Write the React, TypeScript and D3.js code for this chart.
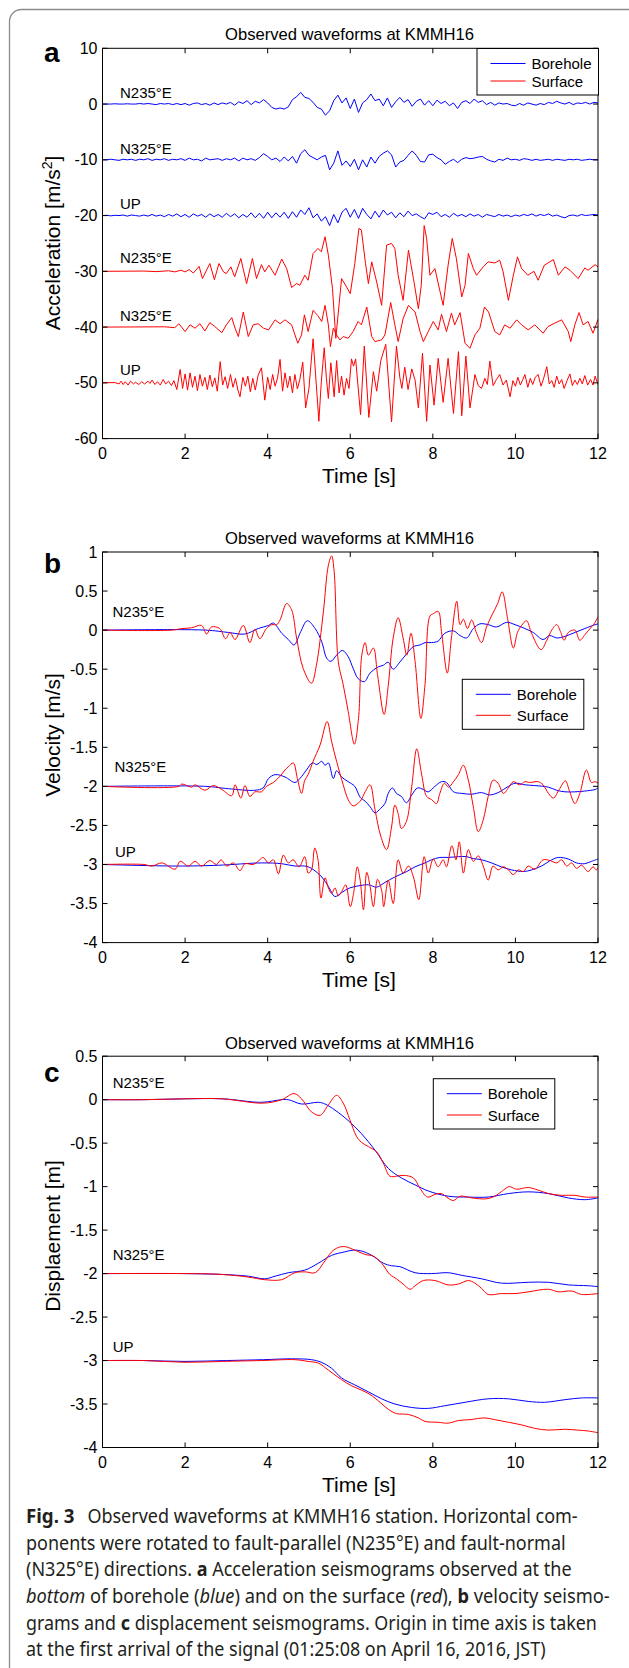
import React from 'react';
import * as d3 from 'd3';

type Pt = [number, number];

// ---- shared axis data ----
const timeTicks = [0, 2, 4, 6, 8, 10, 12];
const accTicks = [10, 0, -10, -20, -30, -40, -50, -60];
const velTicks = [1, 0.5, 0, -0.5, -1, -1.5, -2, -2.5, -3, -3.5, -4];
const dispTicks = [0.5, 0, -0.5, -1, -1.5, -2, -2.5, -3, -3.5, -4];
const components = ['N235°E', 'N325°E', 'UP'];
const legendNames = ['Borehole', 'Surface'];

// ---- (a) acceleration, borehole sampled every 0.1 s ----
const accDt = 0.1;
const accBoreN235 = [
  0, 0, 0, 0.05, 0, 0, 0.05, 0, 0, 0.1,
  0, 0.1, 0, -0.1, 0.1, 0, 0.1, -0.1, 0.1, -0.1,
  0.1, -0.2, 0.1, 0.2, -0.1, 0.1, -0.2, 0.2, -0.1, 0.2,
  0, 0.3, -0.2, 0.4, 0.1, 0.6, -0.1, 0.5, 0.2, 0.8,
  0.2, -0.6, -0.9, -0.7, -0.9, -0.5, 0.8, 1.3, 2.1, 1.2,
  1.0, 0.3, -0.6, -0.9, -2.0, -1.2, 0.6, 1.6, 0.2, 1.1,
  -0.8, 0.9, -1.5, 0.2, 0.8, 1.8, 0.6, 0.9, -0.3, 1.1,
  -0.6, 0.4, 1.2, 0.3, 0.8, -0.4, 0.5, 0.9, -0.2, 0.6,
  -0.3, 0.7, 0.1, 0.5, -0.3, 0.2, -0.8, 0.3, 0.6, 0.1,
  0.9, 0.3, 0.6, -0.1, 0.3, -0.2, 0.2, 0, 0.1, -0.2,
  -0.3, 0.1, -0.2, 0.2, 0, -0.2, 0.1, -0.1, 0.3, 0.1,
  0.5, 0.2, 0, 0.3, -0.1, 0.2, 0.1, 0.3, 0, 0.3,
  0.2,
];
const accBoreN325 = [
  0, 0, 0.1, 0, -0.1, 0.1, 0, 0.1, -0.1, 0.1,
  0, 0.2, -0.1, 0.1, 0, 0.2, -0.1, 0.1, 0, 0.2,
  -0.1, 0.3, 0, 0.1, -0.2, 0.3, 0, 0.1, 0.2, -0.1,
  0.2, 0, 0.3, -0.2, 0.3, 0, 0.2, -0.1, 0.4, 1.1,
  0.6, 0, 0.3, -0.3, 0.5, -0.2, 0.6, -0.6, 1.1, 1.8,
  0.8, 0.4, 0, 0.5, 0.8, -1.8, -0.6, 1.6, -1.0, -0.2,
  -1.2, 0.1, -1.8, 0, -1.3, 0.5, -0.6, 0.6, 1.2, 1.6,
  0.9, -1.3, -0.4, -0.1, 0.8, 1.6, 0.8, -0.3, -0.4, 0.9,
  1.0, 0.4, 0, -0.8, -0.3, 0.1, -0.5, 0.1, 0.4, 0.2,
  0.3, 0.5, 0.6, 0.1, -0.2, -0.4, 0.1, -0.1, 0.3, 0,
  0.1, -0.1, 0.2, 0.1, -0.1, 0.1, -0.1, 0, 0.1, -0.1,
  0.1, 0, -0.1, 0.1, 0, 0.1, -0.1, 0, 0.1, 0,
  0,
];
const accBoreUP = [
  0, 0.05, -0.05, 0.05, 0, 0.1, -0.1, 0.1, 0, -0.1,
  0.1, -0.1, 0.2, -0.1, 0.1, -0.2, 0.2, -0.1, 0.3, -0.2,
  0.2, -0.3, 0.3, -0.1, 0.2, -0.3, 0.3, -0.2, 0.2, -0.3,
  0.4, -0.2, 0.3, -0.4, 0.2, -0.3, 0.5, -0.4, 0.4, -0.5,
  0.6, -0.4, 0.5, -0.3, 0.6, -0.5, 0.7, -0.3, 1.0, 0.2,
  1.4, -0.4, 0.3, -1.0, -0.2, -1.8, 0.2, -1.3, 0.6, 1.3,
  -0.3, 1.1, -0.5, 1.3, 0.2, -0.6, 0.8, -0.3, 1.0, 0.1,
  0.6, -0.4, 0.5, -0.2, 0.8, 0, 0.3, -0.2, -0.6, 0.5,
  0.2, 0.6, -0.2, 0.2, -0.3, 0.4, -0.1, 0.2, -0.2, 0.3,
  -0.1, 0.2, -0.3, 0.2, 0, -0.2, 0.2, -0.1, 0.1, -0.2,
  0.1, -0.1, 0.2, 0, 0.3, -0.1, 0.2, 0, 0.3, -0.1,
  0.1, -0.2, -0.4, 0, 0.1, -0.1, 0.2, 0, 0.1, 0.2,
  0.1,
];

// ---- (a) acceleration, surface: [time s, m/s^2] ----
const accSurfN235: Pt[] = [
  [0, 0], [1.0, 0.05], [1.3, -0.05], [1.6, 0.1], [1.75, -0.1], [1.9, 0.2], [2.0, -0.1], [2.1, 0.3],
  [2.2, -0.3], [2.34, 0.9], [2.42, -1.3], [2.6, 1.4], [2.71, -1.5], [2.82, 1.4], [2.93, -0.1], [3.0, -0.4],
  [3.11, 0.8], [3.2, -1.0], [3.35, 2.3], [3.49, -2.2], [3.63, 2.3], [3.73, -1.3], [3.85, 1.2], [3.93, -0.1],
  [4.03, 1.1], [4.18, -0.7], [4.34, 2.2], [4.46, 0.5], [4.58, -2.9], [4.7, -2.2], [4.78, -2.5], [4.9, -0.7],
  [4.98, -1.6], [5.1, 3.2], [5.22, 4.1], [5.3, 3.5], [5.39, 6.2], [5.47, 2.9], [5.57, -3.1], [5.65, -12],
  [5.79, -1.3], [5.91, -2.8], [6.0, -4], [6.11, 1.4], [6.21, 7.7], [6.27, 7.4], [6.37, 1.4], [6.44, -2.2],
  [6.52, 1.7], [6.64, -1.9], [6.76, -6.1], [6.88, 4.7], [7.0, 5.0], [7.08, 4.1], [7.16, -0.7], [7.28, -5.2],
  [7.41, 3.8], [7.53, -1.3], [7.65, -6.7], [7.72, -2.5], [7.79, 8.2], [7.85, 5.9], [7.93, -0.7], [8.05, 0.5],
  [8.25, -6.1], [8.37, 1.1], [8.47, 5.9], [8.57, 2.3], [8.7, -4.6], [8.78, -2.5], [8.86, 3.2], [8.98, 0.5],
  [9.06, -0.7], [9.22, 0.8], [9.34, 1.7], [9.5, 1.5], [9.62, 2.0], [9.7, 0], [9.83, -5.2], [9.95, -0.7],
  [10.05, 2.6], [10.15, 0.5], [10.3, -0.7], [10.45, 0], [10.55, -1.6], [10.7, 1.1], [10.92, 2.1], [11.04, -0.7],
  [11.2, 0.8], [11.32, 0.2], [11.52, -1.3], [11.68, 0.6], [11.76, 0.2], [11.93, 1.2], [12.0, 0.8],
];
const accSurfN325: Pt[] = [
  [0, 0], [1.5, 0.05], [1.75, -0.1], [1.85, 0.6], [2.0, -0.8], [2.12, 0.4], [2.24, -0.2], [2.36, 0.6],
  [2.48, -0.7], [2.6, 0.8], [2.72, 0.1], [2.89, -1.0], [3.0, 0.4], [3.13, 1.7], [3.21, -0.2], [3.29, -1.7],
  [3.41, 2.7], [3.53, -1.7], [3.65, 0.4], [3.77, 0.6], [3.9, -0.2], [4.02, -0.5], [4.18, 1.3], [4.3, 0.6],
  [4.42, 1.3], [4.58, 0.4], [4.73, -2.9], [4.82, -1.4], [4.89, 2.2], [4.98, -0.8], [5.1, 3.0], [5.21, 2.1],
  [5.31, 1.0], [5.39, 3.9], [5.47, 0.4], [5.52, -3.5], [5.59, -0.2], [5.67, -1.4], [5.75, -2.3], [5.83, -1.7],
  [5.95, -2.0], [6.07, -0.8], [6.19, 1.0], [6.27, 0.4], [6.4, 3.6], [6.52, -1.7], [6.6, -2.6], [6.76, -2.3],
  [6.84, -1.4], [6.98, 4.4], [7.08, 0.4], [7.16, -2.6], [7.28, 1.5], [7.41, 3.9], [7.57, 2.7], [7.69, -0.8],
  [7.77, -2.6], [7.89, -0.8], [8.01, 1.0], [8.13, -0.5], [8.21, 2.3], [8.33, -0.8], [8.45, 2.5], [8.53, 0.4],
  [8.66, 2.6], [8.78, -2.9], [8.9, -3.8], [9.02, -1.4], [9.14, -0.2], [9.25, 3.6], [9.35, 2.7], [9.5, -0.8],
  [9.62, -1.4], [9.74, 0.4], [9.87, -0.2], [10.03, 1.3], [10.15, 0.4], [10.31, -0.5], [10.47, 0.4], [10.67, -1.1],
  [10.79, 0.1], [10.95, 0.7], [11.12, 1.3], [11.28, -0.8], [11.34, -2.6], [11.44, 0.4], [11.54, 2.6], [11.64, 0.4],
  [11.76, 1.0], [11.88, -1.1], [12.0, 1.4],
];
const accSurfUP: Pt[] = [
  [0, 0], [0.3, 0.05], [0.4, -0.2], [0.45, 0.3], [0.5, -0.3], [0.55, 0.2], [0.62, -0.4], [0.68, 0.3],
  [0.75, -0.2], [0.8, 0.1], [0.88, -0.3], [0.95, 0.2], [1.02, -0.2], [1.1, 0.3], [1.15, -0.1], [1.2, 0.5],
  [1.27, -0.3], [1.33, 0.2], [1.4, -0.4], [1.47, 0.6], [1.53, -0.2], [1.6, 0.3], [1.67, -0.5], [1.73, 0.4],
  [1.8, -1.2], [1.88, 2.4], [1.94, -1.0], [2.0, 1.6], [2.06, -1.3], [2.12, 1.8], [2.18, -0.8], [2.24, 1.2],
  [2.3, -1.4], [2.36, 1.5], [2.42, -0.6], [2.48, 1.0], [2.54, -1.2], [2.6, 1.4], [2.66, -0.7], [2.72, 0.9],
  [2.78, -1.5], [2.85, 3.8], [2.91, -0.4], [2.97, 1.1], [3.03, -1.0], [3.1, 1.5], [3.16, -0.8], [3.22, 0.8],
  [3.28, -1.3], [3.33, -2.5], [3.4, 1.0], [3.46, -0.6], [3.52, 1.2], [3.58, -1.6], [3.64, 0.8], [3.7, -1.3],
  [3.77, 1.4], [3.85, 2.7], [3.93, -3.1], [4.0, 1.0], [4.06, -1.2], [4.12, 1.5], [4.18, -0.6], [4.24, 0.9],
  [4.3, 4.2], [4.36, -1.5], [4.42, 1.8], [4.48, -0.9], [4.54, 1.2], [4.6, -1.8], [4.66, 1.5], [4.72, -1.1],
  [4.78, 0.6], [4.85, 3.7], [4.92, -4.5], [5.0, -1.0], [5.1, 7.9], [5.17, 0.5], [5.24, -6.9], [5.3, 0.3],
  [5.37, 6.3], [5.42, 1.0], [5.47, -2.8], [5.53, 3.6], [5.61, -2.5], [5.67, 4.0], [5.73, -1.8], [5.79, 1.2],
  [5.85, -2.2], [5.91, 0.8], [5.97, -1.0], [6.03, 4.3], [6.08, 3.0], [6.13, 4.3], [6.25, -5.7], [6.34, 6.6],
  [6.45, -6.2], [6.56, 2.0], [6.64, -1.5], [6.74, 4.0], [6.86, 6.9], [7.0, -7.0], [7.12, 6.6], [7.2, 1.0],
  [7.25, -1.0], [7.32, 2.8], [7.4, -1.2], [7.49, 2.5], [7.57, 0.5], [7.65, -4.5], [7.75, 5.3], [7.85, -6.9],
  [7.93, 3.2], [8.03, -4.0], [8.13, 4.4], [8.25, -3.5], [8.37, 4.4], [8.5, -5.5], [8.62, 5.6], [8.7, -5.9],
  [8.8, 4.8], [8.9, -4.5], [9.02, 1.5], [9.1, -0.5], [9.18, -1.0], [9.26, 0.8], [9.32, -0.3], [9.38, 3.9],
  [9.46, -0.5], [9.54, 0.6], [9.62, 1.5], [9.7, -0.4], [9.78, 0.5], [9.87, -2.5], [9.94, 0.4], [10.0, -0.6],
  [10.06, 1.0], [10.12, -0.4], [10.18, 0.6], [10.23, 1.5], [10.3, -0.8], [10.36, 0.8], [10.42, -0.3], [10.48, 1.0],
  [10.55, 1.5], [10.62, -0.6], [10.68, 0.7], [10.76, 2.9], [10.82, -0.2], [10.88, 0.4], [10.94, -0.8], [11.0, 1.2],
  [11.06, -0.2], [11.12, 0.6], [11.18, -1.0], [11.25, 0.4], [11.32, 1.6], [11.38, -0.5], [11.44, 0.5], [11.5, -0.3],
  [11.56, 0.8], [11.62, -0.2], [11.68, 1.3], [11.75, -0.4], [11.82, 0.6], [11.88, -0.4], [11.93, 1.2], [12.0, -0.3],
];

// ---- (b) velocity [m/s] ----
const velBoreN235: Pt[] = [
  [0, 0], [2.5, 0], [3.05, -0.03], [3.45, -0.05], [3.77, 0.02], [4.02, 0.06], [4.14, 0.09], [4.34, -0.04],
  [4.5, -0.12], [4.64, -0.19], [4.8, -0.02], [4.96, 0.12], [5.15, 0.02], [5.31, -0.15], [5.43, -0.36], [5.53, -0.4],
  [5.67, -0.32], [5.81, -0.26], [5.95, -0.34], [6.07, -0.49], [6.19, -0.62], [6.34, -0.66], [6.48, -0.55], [6.68, -0.47],
  [6.8, -0.45], [6.92, -0.41], [7.04, -0.5], [7.2, -0.41], [7.37, -0.3], [7.53, -0.21], [7.69, -0.19], [7.81, -0.16],
  [7.97, -0.16], [8.13, -0.14], [8.29, -0.04], [8.5, -0.01], [8.66, -0.07], [8.82, -0.1], [8.98, 0.02], [9.14, 0.08],
  [9.34, 0.07], [9.54, 0.04], [9.79, 0.1], [9.99, 0.07], [10.23, 0.02], [10.43, -0.03], [10.67, -0.12], [10.83, -0.07],
  [11.0, -0.1], [11.2, -0.08], [11.44, -0.03], [11.68, 0.02], [11.93, 0.07], [12.0, 0.08],
];
const velSurfN235: Pt[] = [
  [0, 0], [1.68, 0], [1.92, 0.02], [2.16, 0.03], [2.4, 0.06], [2.52, -0.05], [2.64, 0.04], [2.84, 0.02],
  [2.98, -0.11], [3.09, -0.03], [3.21, -0.12], [3.41, 0.06], [3.57, -0.16], [3.69, 0.01], [3.81, -0.11], [3.97, 0.02],
  [4.1, 0.07], [4.22, 0.07], [4.3, 0.13], [4.46, 0.34], [4.58, 0.26], [4.7, -0.1], [4.86, -0.49], [5.06, -0.68],
  [5.18, -0.45], [5.35, 0.24], [5.47, 0.83], [5.55, 0.95], [5.61, 0.75], [5.71, -0.4], [5.83, -0.7], [5.95, -1.04],
  [6.1, -1.46], [6.2, -1.13], [6.28, -0.32], [6.36, -0.16], [6.44, -0.32], [6.56, -0.23], [6.66, -0.57], [6.82, -1.08],
  [6.92, -0.71], [7.04, -0.1], [7.16, 0.16], [7.28, -0.1], [7.37, -0.32], [7.47, -0.04], [7.57, -0.4], [7.71, -1.13],
  [7.81, -0.7], [7.93, 0.18], [8.01, 0.21], [8.13, 0.24], [8.21, -0.02], [8.35, -0.55], [8.45, -0.1], [8.58, 0.37],
  [8.66, 0.07], [8.74, 0.14], [8.84, 0.02], [8.94, 0.13], [9.06, -0.04], [9.18, -0.16], [9.3, 0.04], [9.42, 0.18],
  [9.57, 0.34], [9.68, 0.49], [9.81, 0.15], [9.95, -0.23], [10.05, -0.03], [10.15, 0.06], [10.27, 0.12], [10.39, -0.04],
  [10.62, -0.25], [10.76, -0.13], [10.88, 0], [11.0, 0.07], [11.1, -0.03], [11.18, -0.13], [11.28, -0.03], [11.44, 0],
  [11.56, -0.13], [11.68, -0.06], [11.84, 0.04], [11.93, 0.1], [12.0, 0.17],
];
const velBoreN325: Pt[] = [
  [0, 0], [2.5, 0], [3.05, -0.03], [3.69, -0.05], [3.89, -0.02], [4.02, 0.1], [4.18, 0.15], [4.42, 0.12],
  [4.66, 0.05], [4.78, 0.1], [4.94, 0.21], [5.08, 0.3], [5.19, 0.28], [5.31, 0.32], [5.39, 0.27], [5.47, 0.3],
  [5.59, 0.1], [5.67, 0.2], [5.79, 0.12], [5.95, 0.06], [6.11, 0], [6.24, -0.14], [6.36, -0.19], [6.48, -0.26],
  [6.6, -0.34], [6.74, -0.28], [6.84, -0.22], [6.92, -0.09], [7.02, -0.02], [7.12, -0.09], [7.24, -0.13], [7.36, -0.21],
  [7.49, -0.11], [7.63, -0.02], [7.77, -0.04], [7.89, -0.07], [8.05, 0], [8.21, 0.06], [8.33, 0.05], [8.5, -0.07],
  [8.7, -0.09], [8.94, -0.1], [9.18, -0.08], [9.38, -0.11], [9.58, -0.08], [9.83, 0], [9.99, 0.04], [10.23, 0.02],
  [10.47, 0.01], [10.8, -0.01], [11.0, -0.05], [11.2, -0.07], [11.44, -0.07], [11.68, -0.06], [11.93, -0.04], [12.0, -0.02],
];
const velSurfN325: Pt[] = [
  [0, 0], [1.85, 0], [1.92, 0.03], [2.16, -0.01], [2.24, 0.02], [2.48, -0.05], [2.68, 0.01], [2.89, -0.04],
  [3.13, -0.12], [3.21, 0.02], [3.35, -0.15], [3.45, 0.01], [3.57, -0.13], [3.69, -0.07], [3.85, -0.07], [3.97, 0],
  [4.14, 0.05], [4.3, 0.13], [4.42, 0.21], [4.5, 0.25], [4.62, 0.3], [4.72, 0.1], [4.82, -0.09], [4.9, 0.08],
  [4.98, 0.15], [5.1, 0.32], [5.27, 0.53], [5.44, 0.83], [5.55, 0.57], [5.67, 0.32], [5.83, 0.02], [5.95, -0.17],
  [6.07, -0.25], [6.24, -0.19], [6.36, -0.07], [6.48, 0.02], [6.6, -0.3], [6.74, -0.64], [6.88, -0.81], [7.0, -0.52],
  [7.08, -0.24], [7.16, -0.35], [7.24, -0.54], [7.36, -0.45], [7.49, 0], [7.61, 0.48], [7.73, 0.15], [7.85, -0.13],
  [7.97, -0.17], [8.09, -0.22], [8.17, -0.09], [8.28, 0.04], [8.38, -0.01], [8.5, 0.06], [8.62, 0.15], [8.74, 0.27],
  [8.86, 0.08], [8.98, -0.26], [9.1, -0.58], [9.22, -0.43], [9.34, -0.13], [9.46, 0.08], [9.58, 0.04], [9.71, -0.09],
  [9.83, -0.02], [9.95, 0.06], [10.1, 0.02], [10.23, 0.06], [10.35, 0.05], [10.55, 0.06], [10.67, 0.02], [10.8, -0.09],
  [10.92, -0.15], [11.06, -0.04], [11.21, 0.07], [11.31, -0.06], [11.44, -0.22], [11.56, -0.09], [11.72, 0.21], [11.84, 0.05],
  [11.93, 0.06], [12.0, 0.04],
];
const velBoreUP: Pt[] = [
  [0, 0], [1.8, -0.02], [2.8, -0.01], [3.85, 0.02], [4.34, 0.01], [4.66, -0.02], [4.9, -0.02], [5.06, -0.05],
  [5.31, -0.16], [5.47, -0.28], [5.63, -0.41], [5.79, -0.36], [5.99, -0.3], [6.24, -0.27], [6.44, -0.26], [6.64, -0.29],
  [6.84, -0.23], [7.08, -0.16], [7.37, -0.09], [7.57, -0.03], [7.81, 0.02], [7.97, 0.06], [8.17, 0.09], [8.37, 0.09],
  [8.62, 0.1], [8.82, 0.1], [8.94, 0.08], [9.18, 0.06], [9.42, 0.02], [9.66, -0.03], [9.91, -0.07], [10.19, -0.09],
  [10.39, -0.07], [10.63, -0.02], [10.88, 0.06], [11.04, 0.09], [11.28, 0.07], [11.48, 0.02], [11.68, 0.01], [11.84, 0.04],
  [12.0, 0.07],
];
const velSurfUP: Pt[] = [
  [0, 0], [1.0, 0], [1.2, -0.02], [1.44, 0.02], [1.76, -0.06], [1.88, 0.04], [2.08, -0.02], [2.24, 0.04],
  [2.4, -0.02], [2.6, 0.05], [2.76, 0], [2.87, 0.06], [3.01, -0.02], [3.17, 0.02], [3.33, -0.08], [3.45, 0.01],
  [3.65, 0], [3.81, 0.06], [3.89, 0.09], [4.02, 0.02], [4.14, 0.06], [4.26, -0.12], [4.38, 0.12], [4.5, 0.02],
  [4.62, 0.06], [4.76, -0.03], [4.9, 0.1], [4.98, -0.11], [5.06, -0.07], [5.14, 0.21], [5.22, 0.06], [5.29, -0.43],
  [5.39, -0.17], [5.47, -0.3], [5.55, -0.37], [5.63, -0.3], [5.71, -0.4], [5.79, -0.35], [5.89, -0.26], [6.0, -0.54],
  [6.08, -0.37], [6.17, -0.03], [6.24, -0.2], [6.32, -0.58], [6.4, -0.1], [6.48, -0.28], [6.56, -0.54], [6.66, -0.19],
  [6.76, -0.33], [6.81, -0.54], [6.92, -0.2], [7.04, -0.5], [7.16, 0.06], [7.28, -0.11], [7.41, -0.02], [7.53, -0.16],
  [7.66, -0.45], [7.79, 0.1], [7.89, -0.11], [8.01, 0.07], [8.13, -0.03], [8.25, 0.06], [8.33, -0.03], [8.46, 0.24],
  [8.56, 0.06], [8.64, 0.29], [8.74, -0.11], [8.86, 0.19], [8.98, 0.04], [9.1, 0.11], [9.22, -0.02], [9.34, -0.2],
  [9.46, -0.02], [9.58, -0.07], [9.71, -0.03], [9.83, -0.07], [9.95, -0.13], [10.07, -0.07], [10.19, -0.09], [10.31, -0.02],
  [10.47, -0.06], [10.67, 0.06], [10.84, 0.05], [11.0, 0.02], [11.12, 0.06], [11.24, -0.02], [11.36, 0.02], [11.48, -0.05],
  [11.6, -0.01], [11.76, -0.09], [11.88, -0.03], [11.96, -0.07], [12.0, -0.04],
];

// ---- (c) displacement [m] ----
const dispBoreN235: Pt[] = [
  [0, 0], [1.0, 0], [2.0, 0.01], [2.9, 0.01], [3.85, -0.03], [4.34, 0], [4.5, 0], [4.82, -0.05],
  [5.23, -0.03], [5.39, -0.05], [5.63, -0.12], [5.95, -0.24], [6.27, -0.39], [6.6, -0.58], [6.92, -0.79], [7.24, -0.9],
  [7.57, -0.98], [7.89, -1.05], [8.37, -1.11], [8.86, -1.12], [9.34, -1.12], [9.83, -1.08], [10.31, -1.06], [10.8, -1.08],
  [11.28, -1.13], [11.68, -1.15], [12.0, -1.13],
];
const dispSurfN235: Pt[] = [
  [0, 0], [1.0, 0], [2.0, 0.01], [2.9, 0.01], [3.89, -0.04], [4.34, 0], [4.64, 0.07], [4.82, 0.01],
  [5.06, -0.14], [5.27, -0.18], [5.47, -0.06], [5.67, 0.05], [5.83, -0.04], [5.99, -0.23], [6.15, -0.42], [6.27, -0.49],
  [6.44, -0.54], [6.64, -0.6], [6.8, -0.73], [6.96, -0.88], [7.12, -0.88], [7.28, -0.87], [7.53, -0.9], [7.69, -1.02],
  [7.87, -1.12], [8.05, -1.09], [8.21, -1.08], [8.33, -1.12], [8.5, -1.16], [8.66, -1.11], [8.94, -1.13], [9.3, -1.14],
  [9.5, -1.11], [9.71, -1.04], [9.85, -1.0], [10.03, -1.03], [10.31, -1.01], [10.55, -1.04], [10.8, -1.08], [11.12, -1.1],
  [11.44, -1.1], [11.68, -1.12], [12.0, -1.12],
];
const dispBoreN325: Pt[] = [
  [0, 0], [2.0, 0], [2.9, -0.01], [3.53, -0.03], [3.93, -0.06], [4.18, -0.03], [4.5, 0.01], [4.9, 0.04],
  [5.23, 0.12], [5.55, 0.21], [5.87, 0.25], [6.07, 0.27], [6.27, 0.26], [6.52, 0.21], [6.8, 0.12], [7.0, 0.09],
  [7.2, 0.08], [7.57, 0.01], [7.97, 0], [8.37, 0.01], [8.7, -0.02], [9.18, -0.06], [9.66, -0.11], [10.31, -0.1],
  [10.8, -0.1], [11.28, -0.13], [11.76, -0.14], [12.0, -0.15],
];
const dispSurfN325: Pt[] = [
  [0, 0], [2.0, 0], [2.9, -0.01], [3.53, -0.04], [3.93, -0.07], [4.34, -0.07], [4.66, 0.01], [4.9, 0.02],
  [5.15, 0.01], [5.35, 0.12], [5.55, 0.25], [5.71, 0.3], [5.87, 0.31], [6.11, 0.27], [6.36, 0.22], [6.56, 0.2],
  [6.76, 0.12], [6.96, -0.01], [7.12, -0.06], [7.28, -0.12], [7.45, -0.18], [7.57, -0.14], [7.77, -0.08], [8.05, -0.08],
  [8.37, -0.13], [8.62, -0.12], [8.86, -0.08], [9.02, -0.11], [9.18, -0.17], [9.34, -0.24], [9.66, -0.23], [9.99, -0.23],
  [10.31, -0.21], [10.8, -0.18], [11.04, -0.21], [11.36, -0.2], [11.6, -0.24], [12.0, -0.23],
];
const dispBoreUP: Pt[] = [
  [0, 0], [1.0, 0], [2.0, -0.01], [3.0, 0], [3.9, 0.01], [4.58, 0.02], [5.06, 0.01], [5.3, -0.02],
  [5.55, -0.09], [5.79, -0.2], [6.11, -0.28], [6.44, -0.36], [6.76, -0.44], [7.08, -0.5], [7.49, -0.54], [7.89, -0.55],
  [8.29, -0.52], [8.78, -0.48], [9.34, -0.44], [9.83, -0.44], [10.31, -0.47], [10.71, -0.48], [11.2, -0.45], [11.6, -0.43],
  [12.0, -0.43],
];
const dispSurfUP: Pt[] = [
  [0, 0], [1.0, 0], [2.0, -0.02], [2.9, -0.01], [3.85, 0], [4.66, 0.01], [4.98, -0.01], [5.23, -0.03],
  [5.47, -0.11], [5.79, -0.22], [6.03, -0.29], [6.27, -0.34], [6.48, -0.39], [6.72, -0.48], [6.92, -0.56], [7.12, -0.61],
  [7.41, -0.62], [7.65, -0.66], [7.81, -0.7], [8.13, -0.71], [8.37, -0.72], [8.62, -0.69], [8.9, -0.68], [9.26, -0.66],
  [9.5, -0.68], [9.83, -0.71], [10.15, -0.74], [10.47, -0.78], [10.8, -0.8], [11.2, -0.79], [11.5, -0.8], [11.76, -0.81],
  [12.0, -0.83],
];

const BLUE = '#0000ff';
const RED = '#ff0000';
const FONT = '"Liberation Sans", Arial, Helvetica, sans-serif';
const X0 = 102.5;
const X1 = 598;

const fromSteps = (vals: number[], dt: number): Pt[] => vals.map((v, i) => [i * dt, v]);

type Trace = { data: Pt[]; offset: number; color: string };
type PanelCfg = {
  id: string;
  letter: string;
  top: number;
  bottom: number;
  domain: [number, number];
  ticks: number[];
  titleY: number;
  letterY: number;
  ylabel: React.ReactNode;
  ylabelY: number;
  legend: { x: number; y: number; h: number };
  labels: { text: string; offset: number; dx: number; dy: number }[];
  traces: Trace[];
  curve: d3.CurveFactory;
};

const panels: PanelCfg[] = [
  {
    id: 'a', letter: 'a', top: 48.3, bottom: 438.6, domain: [-60, 10], ticks: accTicks,
    titleY: 39.5, letterY: 62,
    ylabel: (<>Acceleration [m/s<tspan dy={-8} fontSize={14}>2</tspan><tspan dy={8}>]</tspan></>),
    ylabelY: 243,
    legend: { x: 477, y: 48.5, h: 46.5 },
    labels: [
      { text: components[0], offset: 0, dx: 120, dy: -6.5 },
      { text: components[1], offset: -10, dx: 120, dy: -6 },
      { text: components[2], offset: -20, dx: 120, dy: -6.3 },
      { text: components[0], offset: -30, dx: 120, dy: -8.5 },
      { text: components[1], offset: -40, dx: 120, dy: -6.5 },
      { text: components[2], offset: -50, dx: 120, dy: -8 },
    ],
    traces: [
      { data: fromSteps(accBoreN235, accDt), offset: 0, color: BLUE },
      { data: fromSteps(accBoreN325, accDt), offset: -10, color: BLUE },
      { data: fromSteps(accBoreUP, accDt), offset: -20, color: BLUE },
      { data: accSurfN235, offset: -30, color: RED },
      { data: accSurfN325, offset: -40, color: RED },
      { data: accSurfUP, offset: -50, color: RED },
    ],
    curve: d3.curveLinear,
  },
  {
    id: 'b', letter: 'b', top: 552, bottom: 942.6, domain: [-4, 1], ticks: velTicks,
    titleY: 543.5, letterY: 572.5,
    ylabel: 'Velocity [m/s]',
    ylabelY: 735,
    legend: { x: 462.3, y: 679.3, h: 50 },
    labels: [
      { text: components[0], offset: 0, dx: 112.5, dy: -13.4 },
      { text: components[1], offset: -2, dx: 114.5, dy: -14 },
      { text: components[2], offset: -3, dx: 115, dy: -7 },
    ],
    traces: [
      { data: velBoreN235, offset: 0, color: BLUE },
      { data: velSurfN235, offset: 0, color: RED },
      { data: velBoreN325, offset: -2, color: BLUE },
      { data: velSurfN325, offset: -2, color: RED },
      { data: velBoreUP, offset: -3, color: BLUE },
      { data: velSurfUP, offset: -3, color: RED },
    ],
    curve: d3.curveCatmullRom.alpha(0.5),
  },
  {
    id: 'c', letter: 'c', top: 1056.2, bottom: 1447.5, domain: [-4, 0.5], ticks: dispTicks,
    titleY: 1048.5, letterY: 1082,
    ylabel: 'Displaement [m]',
    ylabelY: 1236,
    legend: { x: 433.3, y: 1078.7, h: 50.3 },
    labels: [
      { text: components[0], offset: 0, dx: 112.7, dy: -11.4 },
      { text: components[1], offset: -2, dx: 112.7, dy: -13.7 },
      { text: components[2], offset: -3, dx: 112.7, dy: -9 },
    ],
    traces: [
      { data: dispBoreN235, offset: 0, color: BLUE },
      { data: dispSurfN235, offset: 0, color: RED },
      { data: dispBoreN325, offset: -2, color: BLUE },
      { data: dispSurfN325, offset: -2, color: RED },
      { data: dispBoreUP, offset: -3, color: BLUE },
      { data: dispSurfUP, offset: -3, color: RED },
    ],
    curve: d3.curveCatmullRom.alpha(0.5),
  },
];

function Panel({ cfg }: { cfg: PanelCfg }) {
  const x = d3.scaleLinear().domain([0, 12]).range([X0, X1]);
  const y = d3.scaleLinear().domain(cfg.domain).range([cfg.bottom, cfg.top]);
  const tickLen = 5;
  const clipId = `clip-${cfg.id}`;
  const lg = cfg.legend;
  const lgW = 121.5;

  return (
    <g fontFamily={FONT}>
      <defs>
        <clipPath id={clipId}>
          <rect x={X0} y={cfg.top} width={X1 - X0} height={cfg.bottom - cfg.top} />
        </clipPath>
      </defs>
      <text x={349.5} y={cfg.titleY} textAnchor="middle" fontSize={16.6}>
        Observed waveforms at KMMH16
      </text>
      <text x={44} y={cfg.letterY} fontSize={28} fontWeight="bold">{cfg.letter}</text>

      <g clipPath={`url(#${clipId})`}>
        {cfg.traces.map((tr, i) => {
          const line = d3.line<Pt>()
            .x(d => x(d[0]))
            .y(d => y(d[1] + tr.offset))
            .curve(cfg.curve);
          return <path key={i} d={line(tr.data) || ''} fill="none" stroke={tr.color} strokeWidth={1} strokeLinejoin="round" />;
        })}
      </g>

      {cfg.labels.map((l, i) => (
        <text key={i} x={l.dx} y={y(l.offset) + l.dy} fontSize={15}>{l.text}</text>
      ))}

      {/* axes box and ticks */}
      <rect x={X0} y={cfg.top} width={X1 - X0} height={cfg.bottom - cfg.top} fill="none" stroke="#000" strokeWidth={1} />
      {timeTicks.map(t => (
        <g key={`xt${t}`}>
          <line x1={x(t)} x2={x(t)} y1={cfg.bottom} y2={cfg.bottom - tickLen} stroke="#000" />
          <line x1={x(t)} x2={x(t)} y1={cfg.top} y2={cfg.top + tickLen} stroke="#000" />
          <text x={x(t)} y={cfg.bottom + 14.5} textAnchor="middle" dominantBaseline="central" fontSize={16}>{t}</text>
        </g>
      ))}
      {cfg.ticks.map(v => (
        <g key={`yt${v}`}>
          <line x1={X0} x2={X0 + tickLen} y1={y(v)} y2={y(v)} stroke="#000" />
          <line x1={X1} x2={X1 - tickLen} y1={y(v)} y2={y(v)} stroke="#000" />
          <text x={97.5} y={y(v)} textAnchor="end" dominantBaseline="central" fontSize={16}>{v}</text>
        </g>
      ))}
      <text x={359} y={cfg.bottom + 37} textAnchor="middle" dominantBaseline="central" fontSize={21}>Time [s]</text>
      <text transform={`translate(60,${cfg.ylabelY}) rotate(-90)`} textAnchor="middle" fontSize={21}>{cfg.ylabel}</text>

      {/* legend */}
      <rect x={lg.x} y={lg.y} width={lgW} height={lg.h} fill="#fff" stroke="#000" strokeWidth={1} />
      {legendNames.map((name, i) => {
        const ly = lg.y + (i === 0 ? 15 : lg.h - 14);
        return (
          <g key={name}>
            <line x1={lg.x + 13.5} x2={lg.x + 48.5} y1={ly} y2={ly} stroke={i === 0 ? BLUE : RED} strokeWidth={1} />
            <text x={lg.x + 54.5} y={ly} dominantBaseline="central" fontSize={15}>{name}</text>
          </g>
        );
      })}
    </g>
  );
}

const captionX = 26;
const captionFont = '"Noto Sans", "Open Sans", sans-serif';

export default function App() {
  return (
    <div>
      <style>{'body{margin:0}'}</style>
      <svg width={629} height={1668} style={{ display: 'block', background: '#fff' }}>
        <rect x={9.5} y={9.5} width={640} height={1700} rx={12} fill="none" stroke="#8c8c8c" strokeWidth={1.3} />
        {panels.map(p => <Panel key={p.id} cfg={p} />)}
        <g fontFamily={captionFont} fontSize={19} fill="#231f20">
          <text x={captionX} y={1523} textLength={48.5} lengthAdjust="spacingAndGlyphs" fontWeight="bold">Fig. 3</text>
          <text x={87.4} y={1523} textLength={490.2} lengthAdjust="spacingAndGlyphs">
            Observed waveforms at KMMH16 station. Horizontal com-
          </text>
          <text x={captionX} y={1549.7} textLength={539.6} lengthAdjust="spacingAndGlyphs">
            ponents were rotated to fault-parallel (N235°E) and fault-normal
          </text>
          <text x={captionX} y={1576.3} textLength={545.6} lengthAdjust="spacingAndGlyphs">
            (N325°E) directions. <tspan fontWeight="bold">a</tspan> Acceleration seismograms observed at the
          </text>
          <text x={captionX} y={1603} textLength={583.7} lengthAdjust="spacingAndGlyphs">
            <tspan fontStyle="italic">bottom</tspan> of borehole (<tspan fontStyle="italic">blue</tspan>) and on the surface (<tspan fontStyle="italic">red</tspan>), <tspan fontWeight="bold">b</tspan> velocity seismo-
          </text>
          <text x={captionX} y={1629.7} textLength={570.9} lengthAdjust="spacingAndGlyphs">
            grams and <tspan fontWeight="bold">c</tspan> displacement seismograms. Origin in time axis is taken
          </text>
          <text x={captionX} y={1656.3} textLength={519.5} lengthAdjust="spacingAndGlyphs">
            at the first arrival of the signal (01:25:08 on April 16, 2016, JST)
          </text>
        </g>
      </svg>
    </div>
  );
}
